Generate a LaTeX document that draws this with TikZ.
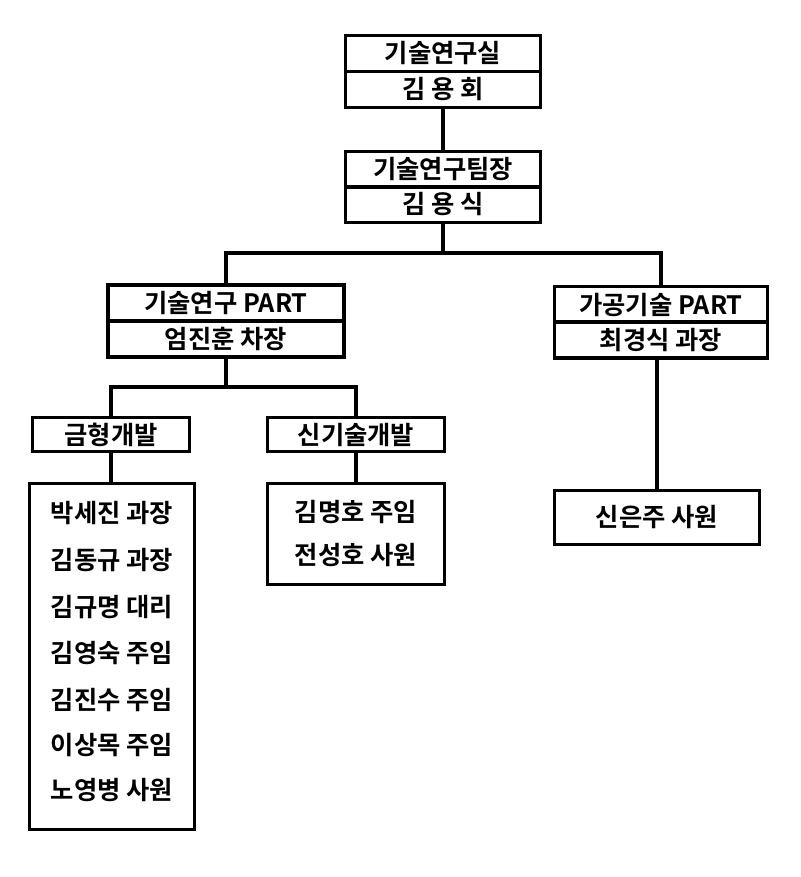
\documentclass[tikz,border=0pt]{standalone}
\usepackage{fontspec}
\newfontfamily\kr{Noto Sans CJK KR Bold}
\tikzset{
    org line/.style = {line width=2.4pt},
    cell/.style = {draw, line width=2.4pt, rectangle, inner sep=0pt, font=\kr\fontsize{19}{22}\selectfont}
}
\begin{document}
\begin{tikzpicture}[x=0.75pt, y=-0.75pt]
        \useasboundingbox (0, 0) rectangle (800, 877);
        % upper boxes
        \node[cell, minimum width=146pt, minimum height=27pt] (lab) at (443, 53.5) {기술연구실};
        \node[cell, minimum width=146pt, minimum height=27pt] (labhead) at (443, 89.5) {김 용 회};
        \node[cell, minimum width=146pt, minimum height=27pt] (team) at (443, 169.5) {기술연구팀장};
        \node[cell, minimum width=146pt, minimum height=27pt] (teamhead) at (443, 204.5) {김 용 식};
        % parts
        \node[cell, minimum width=177pt, minimum height=27pt] (partA) at (226, 303) {기술연구 PART};
        \node[cell, minimum width=177pt, minimum height=27pt] (partAhead) at (226, 339) {엄진훈 차장};
        \node[cell, minimum width=160pt, minimum height=27pt] (partB) at (661, 304.5) {가공기술 PART};
        \node[cell, minimum width=160pt, minimum height=27pt] (partBhead) at (661, 340) {최경식 과장};
        % groups
        \node[cell, minimum width=118pt, minimum height=26pt] (mold) at (111, 434.5) {금형개발};
        \node[cell, minimum width=133pt, minimum height=26pt] (newtech) at (356, 434.5) {신기술개발};
        % member boxes
        \node[cell, minimum width=124pt, minimum height=260pt] (moldstaff) at (112, 656.5) {};
        \node[cell, minimum width=133pt, minimum height=76pt] (newstaff) at (356, 534) {};
        \node[cell, minimum width=154pt, minimum height=41pt] (partBstaff) at (657, 517.5) {신은주 사원};
        \foreach \y/\name in {513/박세진 과장, 560/김동규 과장, 607/김규명 대리, 653/김영숙 주임, 700/김진수 주임, 745/이상목 주임, 790/노영병 사원}
            \node[font=\kr\fontsize{19}{22}\selectfont] at (112, \y) {\name};
        \foreach \y/\name in {512/김명호 주임, 555/전성호 사원}
            \node[font=\kr\fontsize{19}{22}\selectfont] at (356, \y) {\name};
        % connectors
        \coordinate (split) at (443, 253);
        \coordinate (subsplit) at (226, 387);
        \draw[org line] (labhead.south) -- (team.north);
        \draw[org line] (teamhead.south) -- (split);
        \draw[org line] (partA.north) |- (split) -| (partB.north);
        \draw[org line] (partAhead.south) -- (subsplit);
        \draw[org line] (mold.north) |- (subsplit) -| (newtech.north);
        \draw[org line] (mold.south) -- (mold.south |- moldstaff.north);
        \draw[org line] (newtech.south) -- (newstaff.north);
        \draw[org line] (partBhead.south -| partBstaff.north) -- (partBstaff.north);
    \end{tikzpicture}
\end{document}
